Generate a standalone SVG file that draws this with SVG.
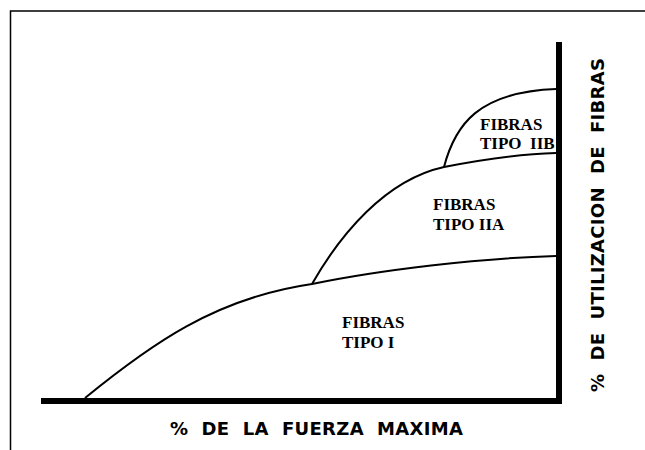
<svg xmlns="http://www.w3.org/2000/svg" width="645" height="450" viewBox="0 0 645 450">
<style>
.frame{fill:none;stroke:#000;stroke-width:1.5}
.axis{fill:none;stroke:#000;stroke-width:6;stroke-linejoin:miter}
.curve{fill:none;stroke:#000;stroke-width:2}
.lbl{font-family:"Liberation Serif","Times New Roman",serif;font-weight:bold;font-size:17px;fill:#000;white-space:pre}
.ax{font-family:"DejaVu Sans",Verdana,sans-serif;font-weight:bold;font-size:18px;fill:#000;white-space:pre}
</style>
<rect width="645" height="450" fill="#fff"/>
<path class="frame" d="M10.5,450 V11 H645"/>
<g id="connectors">
<path class="axis" d="M559,42 V401 H41"/>
<path class="curve" d="M85,398 C150,345 215,298 312,284 C380,270 480,258 556,256"/>
<path class="curve" d="M312,284 C340,235 385,180 444,167 C490,158 520,154 556,153"/>
<path class="curve" d="M444,167 C455,125 478,92 556,89"/>
</g>
<g id="tipo-iib">
<text class="lbl" x="480" y="130">FIBRAS</text>
<text class="lbl" x="480" y="149">TIPO  IIB</text>
</g>
<g id="tipo-iia">
<text class="lbl" x="433" y="210">FIBRAS</text>
<text class="lbl" x="433" y="230">TIPO IIA</text>
</g>
<g id="tipo-i">
<text class="lbl" x="342" y="328">FIBRAS</text>
<text class="lbl" x="342" y="348">TIPO I</text>
</g>
<g id="x-label">
<text class="ax" x="170" y="435" textLength="293" lengthAdjust="spacing">%  DE  LA  FUERZA  MAXIMA</text>
</g>
<g id="y-label">
<text class="ax" transform="translate(604,392) rotate(-90)" x="0" y="0" textLength="334" lengthAdjust="spacing">%  DE  UTILIZACION  DE  FIBRAS</text>
</g>
</svg>
